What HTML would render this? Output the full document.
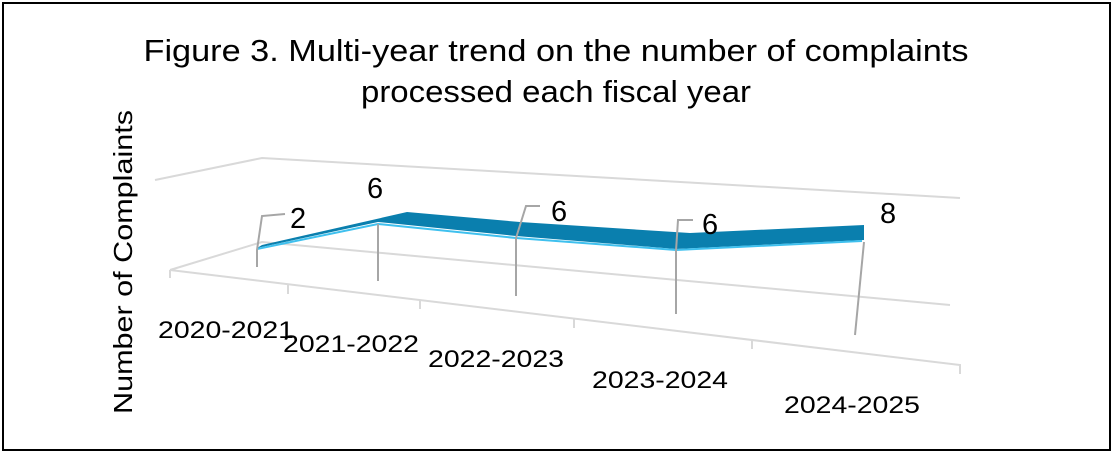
<!DOCTYPE html>
<html><head><style>body{margin:0;background:#fff}svg{display:block}</style></head><body>
<svg width="1114" height="455" viewBox="0 0 1114 455" xmlns="http://www.w3.org/2000/svg" font-family="Liberation Sans, sans-serif">
<rect x="0" y="0" width="1114" height="455" fill="#fff"/>
<rect x="3" y="3" width="1107" height="447" fill="none" stroke="#000" stroke-width="2"/>
<text x="556" y="61" font-size="31" text-anchor="middle" textLength="825" lengthAdjust="spacingAndGlyphs">Figure 3. Multi-year trend on the number of complaints</text>
<text x="556" y="102" font-size="31" text-anchor="middle" textLength="390" lengthAdjust="spacingAndGlyphs">processed each fiscal year</text>
<text transform="translate(132,262) rotate(-90)" font-size="26" text-anchor="middle" textLength="304" lengthAdjust="spacingAndGlyphs">Number of Complaints</text>
<g stroke="#d9d9d9" stroke-width="2" fill="none">
<polyline points="155,180 262,158 960,198"/>
<polyline points="170,270 262,242 950,305"/>
<polyline points="170,270 170,278"/>
<polyline points="170,270 960,365 960,374"/>
<line x1="288" y1="285" x2="288" y2="294"/>
<line x1="420" y1="300" x2="420" y2="309"/>
<line x1="574" y1="319" x2="574" y2="328"/>
<line x1="752" y1="340" x2="752" y2="349"/>
</g>
<polygon points="257,248 378,222 516,236 676,249 864,240 864,225 690,233 520,222 407,212 262,245" fill="#0a7fae"/>
<polyline points="257,249 378,224 516,238 676,250 862,241" fill="none" stroke="#3fc0ee" stroke-width="2"/>
<g stroke="#a6a6a6" stroke-width="2" fill="none">
<polyline points="257,267 257,250 262,216 285,214"/>
<line x1="378" y1="224" x2="378" y2="281"/>
<polyline points="516,296 516,238 526,206 540,206"/>
<polyline points="676,314 676,251 678,220 693,220"/>
<line x1="864" y1="242" x2="855" y2="335"/>
</g>
<g font-size="29">
<text x="290" y="228">2</text>
<text x="367" y="198">6</text>
<text x="551" y="221">6</text>
<text x="702" y="234">6</text>
<text x="880" y="223">8</text>
</g>
<g font-size="24">
<text x="158" y="338" textLength="136" lengthAdjust="spacingAndGlyphs">2020-2021</text>
<text x="283" y="352" textLength="136" lengthAdjust="spacingAndGlyphs">2021-2022</text>
<text x="428" y="367" textLength="136" lengthAdjust="spacingAndGlyphs">2022-2023</text>
<text x="592" y="388" textLength="136" lengthAdjust="spacingAndGlyphs">2023-2024</text>
<text x="784" y="413" textLength="136" lengthAdjust="spacingAndGlyphs">2024-2025</text>
</g>
</svg>
</body></html>
